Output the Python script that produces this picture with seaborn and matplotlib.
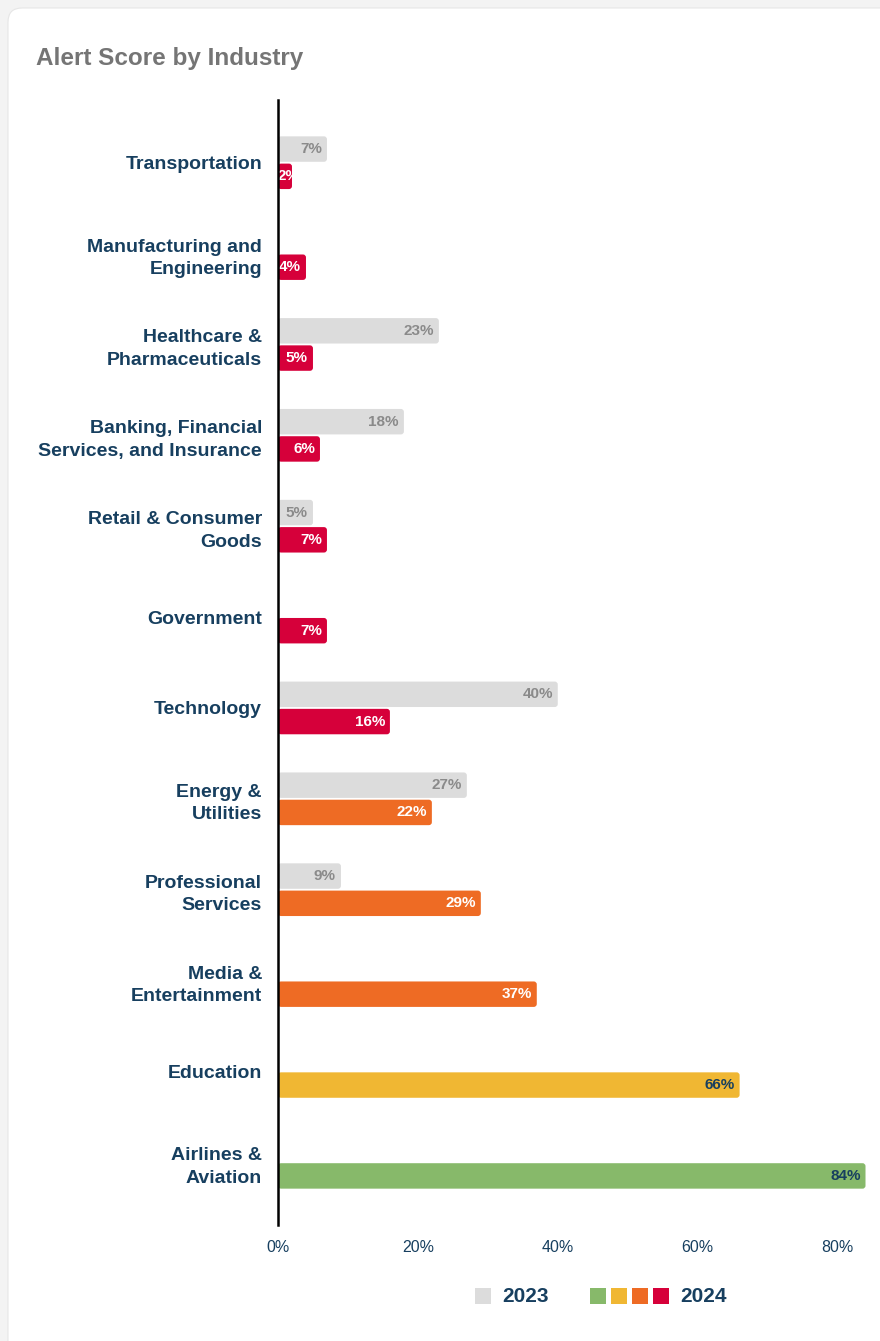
import numpy as np
import pandas as pd
import seaborn as sns
import matplotlib.pyplot as plt
from matplotlib.patches import FancyBboxPatch, Rectangle

# ---- data -------------------------------------------------------------
industries = [
    "Transportation",
    "Manufacturing and\nEngineering",
    "Healthcare &\nPharmaceuticals",
    "Banking, Financial\nServices, and Insurance",
    "Retail & Consumer\nGoods",
    "Government",
    "Technology",
    "Energy &\nUtilities",
    "Professional\nServices",
    "Media &\nEntertainment",
    "Education",
    "Airlines &\nAviation",
]
score_2023 = [7, np.nan, 23, 18, 5, np.nan, 40, 27, 9, np.nan, np.nan, np.nan]
score_2024 = [2, 4, 5, 6, 7, 7, 16, 22, 29, 37, 66, 84]
years = ["2023", "2024"]
x_ticks = [0, 20, 40, 60, 80]

# ---- styling ----------------------------------------------------------
GREY = "#dcdcdc"
RED = "#d6003a"
ORANGE = "#ee6b24"
YELLOW = "#f0b733"
GREEN = "#87b96a"
NAVY = "#173f5f"
colors_2024 = [RED] * 7 + [ORANGE] * 3 + [YELLOW, GREEN]

sns.set_theme(style="white")
plt.rcParams["font.family"] = ["Liberation Sans", "DejaVu Sans"]

W, H = 880, 1341
fig = plt.figure(figsize=(W / 100, H / 100), dpi=100)
fig.patch.set_facecolor("#f3f3f3")

# white card behind the chart
card = FancyBboxPatch((8 / W, -0.05), 1.2, 1.05 - 8 / H,
                      boxstyle=f"round,pad=0,rounding_size={14 / W}",
                      mutation_aspect=W / H, transform=fig.transFigure,
                      facecolor="white", edgecolor="#e6e6e6", linewidth=0.8,
                      zorder=0)
fig.add_artist(card)

ax_left, ax_right = 278, 869
ax_top, ax_bot = 100, 1225
ax = fig.add_axes([ax_left / W, 1 - ax_bot / H,
                   (ax_right - ax_left) / W, (ax_bot - ax_top) / H])
ax.set_facecolor("none")

df = pd.DataFrame({
    "industry": industries * 2,
    "score": score_2023 + score_2024,
    "year": [years[0]] * len(industries) + [years[1]] * len(industries),
})

sns.barplot(data=df, y="industry", x="score", hue="year", orient="h",
            order=industries, hue_order=years, width=0.6, dodge=True,
            palette=[GREY, RED], legend=False, ax=ax)

xmax = 84.5
ax.set_xlim(0, xmax)
ax.set_ylim(len(industries) - 1 + 0.69, -0.69)

px_per_x = (ax_right - ax_left) / xmax
px_per_y = (ax_bot - ax_top) / (len(industries) - 1 + 1.38)

# swap the plain rectangles for slightly rounded bars and add value labels
for ci, container in enumerate(ax.containers):
    for bar in list(container):
        w = bar.get_width()
        if w is None or np.isnan(w) or w <= 0:
            bar.set_visible(False)
            continue
        x0, y0 = bar.get_x(), bar.get_y()
        h = bar.get_height()
        idx = int(round(y0 + h / 2))
        if ci == 0:
            face = GREY
            tcol = "#8a8a8a"
        else:
            face = colors_2024[idx]
            tcol = NAVY if face in (YELLOW, GREEN) else "white"
        bar.set_visible(False)
        r = 3 / px_per_x
        patch = FancyBboxPatch((x0, y0 + 0.01), w, h - 0.02,
                               boxstyle=f"round,pad=0,rounding_size={r}",
                               mutation_aspect=px_per_x / px_per_y,
                               facecolor=face, edgecolor="none", zorder=2)
        ax.add_patch(patch)
        label = f"{w:g}%"
        xr = max(w - 5 / px_per_x, 21 / px_per_x)
        ax.text(xr, y0 + h / 2, label, ha="right", va="center",
                fontsize=11, fontweight="bold", color=tcol, zorder=3)

# axes cosmetics
for s in ["top", "right", "bottom"]:
    ax.spines[s].set_visible(False)
ax.spines["left"].set_color("black")
ax.spines["left"].set_linewidth(1.8)
ax.spines["left"].set_zorder(4)

ax.set_xticks(x_ticks)
ax.set_xticklabels([f"{t}%" for t in x_ticks])
ax.tick_params(axis="x", length=0, pad=11, labelsize=11.5, labelcolor=NAVY)
ax.tick_params(axis="y", direction="inout", length=15, width=1.5,
               color="black", pad=4, labelsize=14, labelcolor=NAVY)
for lab in ax.get_yticklabels():
    lab.set_fontweight("bold")
    lab.set_linespacing(1.42)
ax.set_xlabel("")
ax.set_ylabel("")
ax.grid(False)

# title
fig.text(36 / W, 1 - 58 / H, "Alert Score by Industry", ha="left",
         va="center", fontsize=17.5, fontweight="bold", color="#757575")

# legend: one swatch for 2023, four swatches for 2024
sq = 16
ly = 1288


def swatch(xpx, color):
    fig.add_artist(Rectangle((xpx / W, 1 - (ly + sq) / H), sq / W, sq / H,
                             transform=fig.transFigure, facecolor=color,
                             edgecolor="none"))


swatch(475, GREY)
fig.text(502 / W, 1 - (ly + sq / 2) / H, years[0], ha="left", va="center",
         fontsize=15, fontweight="bold", color=NAVY)
for i, c in enumerate([GREEN, YELLOW, ORANGE, RED]):
    swatch(590 + i * 21, c)
fig.text(680 / W, 1 - (ly + sq / 2) / H, years[1], ha="left", va="center",
         fontsize=15, fontweight="bold", color=NAVY)

fig.savefig("out.png", dpi=100, facecolor=fig.get_facecolor())
